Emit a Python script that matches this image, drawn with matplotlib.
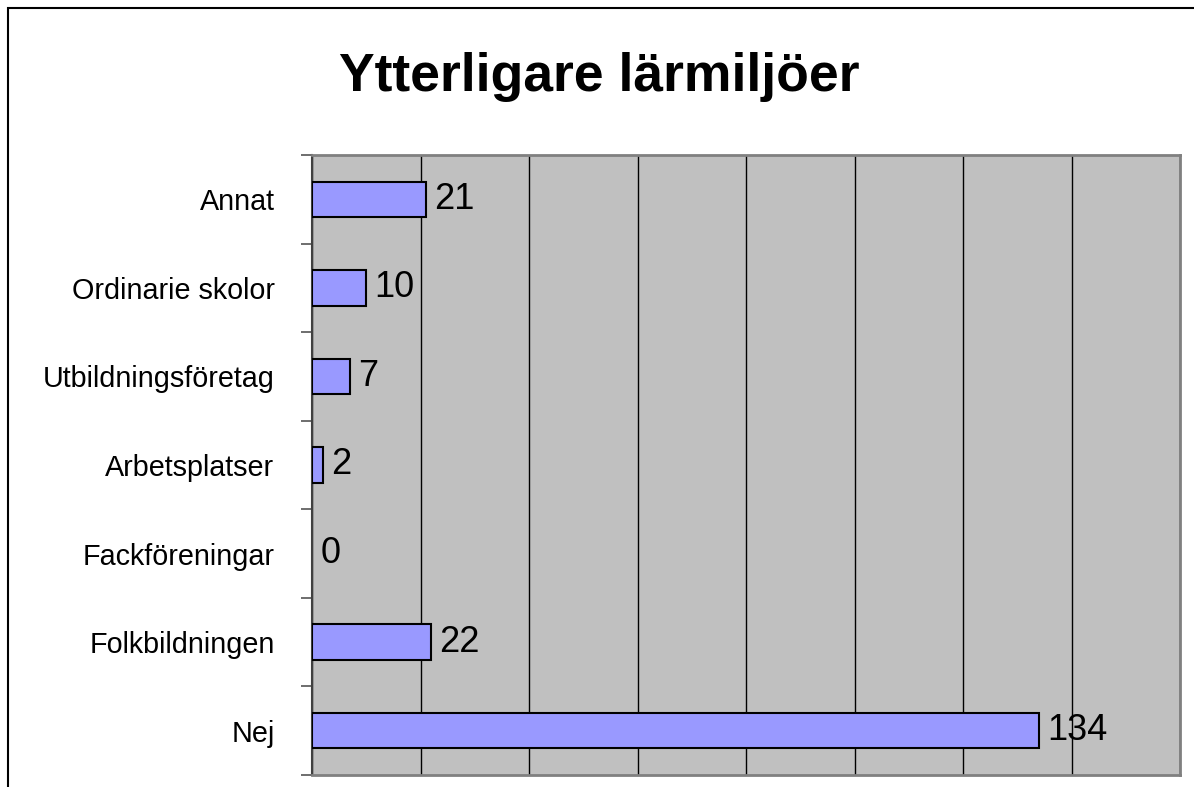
import matplotlib.pyplot as plt
from matplotlib.patches import Rectangle

plt.rcParams['font.family'] = ['Liberation Sans', 'DejaVu Sans']

# data, bottom to top
categories = ['Nej', 'Folkbildningen', 'Fackföreningar', 'Arbetsplatser',
              'Utbildningsföretag', 'Ordinarie skolor', 'Annat']
values = [134, 22, 0, 2, 7, 10, 21]
title = 'Ytterligare lärmiljöer'

W, H = 1194, 787
fig = plt.figure(figsize=(W / 100, H / 100), dpi=100)

# outer frame (top and left visible, rest runs off the image)
fig.patches.append(Rectangle((8 / W, -0.1), 1.2, 1 - 8 / H + 0.1,
                             transform=fig.transFigure, fill=False,
                             edgecolor='black', linewidth=1.5))

ax = fig.add_axes([312 / W, 1 - 775 / H, (1180 - 312) / W, (775 - 155) / H])
ax.set_facecolor('#c0c0c0')

y = list(range(len(categories)))
ax.barh(y, values, height=0.4, color='#9999ff', edgecolor='black',
        linewidth=[1.5 if v else 0 for v in values], zorder=3)
for yi, v in zip(y, values):
    ax.text(v + 1.5, yi, str(v), va='center', ha='left', fontsize=26, zorder=4)

ax.set_xlim(0, 160)
ax.set_ylim(-0.5, len(categories) - 0.5)
ax.set_xticks(range(0, 161, 20))
ax.xaxis.grid(True, color='black', linewidth=1)
ax.set_axisbelow(True)
ax.tick_params(axis='x', length=0, labelbottom=False)

ax.set_yticks(y)
ax.set_yticklabels(categories, fontsize=20.7)
ax.set_yticks([i - 0.5 for i in range(len(categories) + 1)], minor=True)
ax.tick_params(axis='y', which='major', length=0, pad=27)
ax.tick_params(axis='y', which='minor', length=8, color='#555555', width=1.2)

for side in ['top', 'right', 'bottom']:
    ax.spines[side].set_color('#808080')
    ax.spines[side].set_linewidth(2)
ax.spines['left'].set_color('#404040')
ax.spines['left'].set_linewidth(1.5)

fig.text(0.5 + 2 / W, 1 - 77 / H, title, ha='center', va='center',
         fontsize=38.5, fontweight='bold')

fig.savefig('out.png', dpi=100)
